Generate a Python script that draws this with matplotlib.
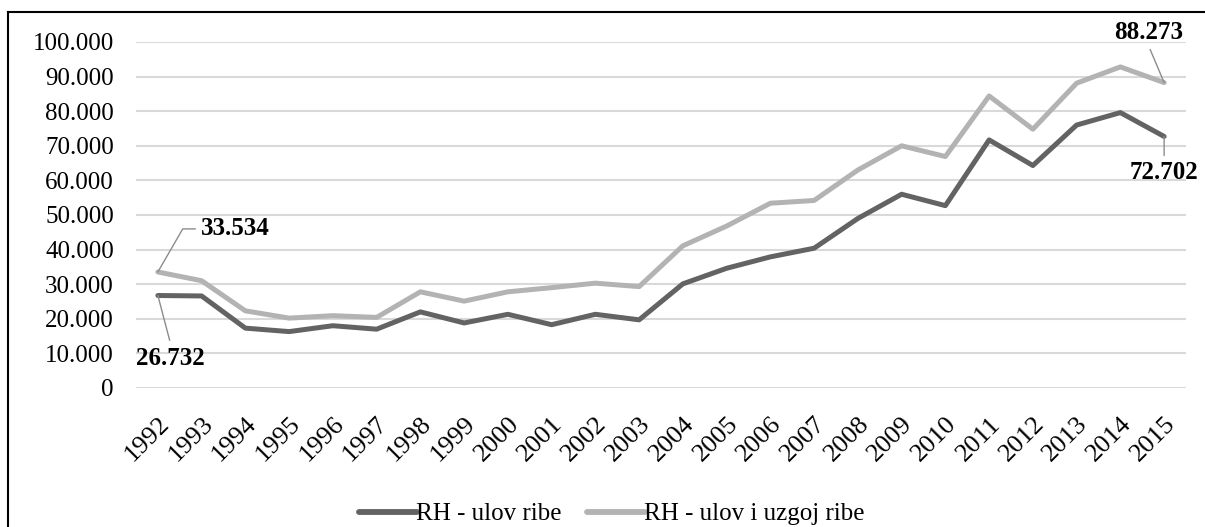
import matplotlib.pyplot as plt
import numpy as np
from matplotlib.lines import Line2D
from matplotlib.ticker import FuncFormatter
from matplotlib.transforms import ScaledTranslation

plt.rcParams['font.family'] = ['Liberation Serif', 'DejaVu Serif']

years = list(range(1992, 2016))
ulov = [26732, 26600, 17300, 16300, 18000, 17000, 22000, 18800, 21300, 18300,
        21300, 19700, 30100, 34600, 37900, 40400, 49000, 56000, 52700, 71700,
        64300, 76000, 79600, 72702]
ulov_uzgoj = [33534, 31000, 22300, 20200, 20900, 20400, 27800, 25100, 27800, 29000,
              30300, 29300, 41100, 46800, 53400, 54200, 63000, 70000, 66900, 84400,
              74800, 88100, 92800, 88273]
series_names = ['RH - ulov ribe', 'RH - ulov i uzgoj ribe']
dark = '#636363'
light = '#b3b3b3'


def thousands(v, pos):
    return f'{int(v):,}'.replace(',', '.')


fig = plt.figure(figsize=(12.05, 5.27), dpi=100)
ax = fig.add_axes([136 / 1205, 1 - 388 / 527, 1050 / 1205, 346 / 527])

x = np.arange(len(years))
ax.plot(x, ulov, color=dark, lw=3.6, solid_capstyle='round', solid_joinstyle='round',
        label=series_names[0], zorder=3)
ax.plot(x, ulov_uzgoj, color=light, lw=3.6, solid_capstyle='round', solid_joinstyle='round',
        label=series_names[1], zorder=3)

ax.set_xlim(-0.5, len(years) - 0.5)
ax.set_ylim(0, 100000)
ax.set_yticks(np.arange(0, 100001, 10000))
ax.yaxis.set_major_formatter(FuncFormatter(thousands))
ax.set_xticks(x)
ax.set_xticklabels([str(y) for y in years], rotation=45, ha='right',
                   rotation_mode='anchor', fontsize=19)
shift = ScaledTranslation(5 / 100, 0, fig.dpi_scale_trans)
for t in ax.get_xticklabels():
    t.set_transform(t.get_transform() + shift)
ax.tick_params(axis='y', labelsize=18, length=0, pad=16)
ax.tick_params(axis='x', length=0, pad=18)
ax.grid(axis='y', color='#d9d9d9', lw=1.5, zorder=0)
for s in ax.spines.values():
    s.set_visible(False)

# data labels with leader lines
lbl = dict(fontsize=18, fontweight='bold', textcoords='offset points', zorder=4,
           annotation_clip=False)
arr = dict(arrowstyle='-', color='#8c8c8c', lw=1, shrinkA=2, shrinkB=0)
ax.annotate(f'{ulov_uzgoj[0] / 1000:.3f}', (x[0], ulov_uzgoj[0]), xytext=(31, 31),
            ha='left', va='center',
            arrowprops=dict(arr, relpos=(0, 0.5),
                            connectionstyle='angle,angleA=0,angleB=60,rad=0'), **lbl)
ax.annotate(f'{ulov[0] / 1000:.3f}', (x[0], ulov[0]), xytext=(9, -45), ha='center',
            va='center', arrowprops=dict(arr, relpos=(0.5, 1.15)), **lbl)
ax.annotate(f'{ulov_uzgoj[-1] / 1000:.3f}', (x[-1], ulov_uzgoj[-1]), xytext=(-11, 36),
            ha='center', va='center', arrowprops=dict(arr, relpos=(0.5, -0.1)), **lbl)
ax.annotate(f'{ulov[-1] / 1000:.3f}', (x[-1], ulov[-1]), xytext=(0, -26), ha='center',
            va='center', arrowprops=dict(arr, relpos=(0.5, 1.1)), **lbl)

leg = fig.legend(loc='center', bbox_to_anchor=(612 / 1205, 1 - 514 / 527), ncol=2,
                 frameon=False, fontsize=18, handlelength=2.3, handletextpad=0.0,
                 columnspacing=1.0)
for h in leg.legend_handles:
    h.set_linewidth(4.2)

# chart border (left and top visible)
fig.add_artist(Line2D([8 / 1205, 8 / 1205], [0, 1 - 12 / 527], color='black', lw=1.5,
                      transform=fig.transFigure))
fig.add_artist(Line2D([8 / 1205, 1], [1 - 12 / 527, 1 - 12 / 527], color='black', lw=1.5,
                      transform=fig.transFigure))

fig.savefig('out.png', dpi=100)
